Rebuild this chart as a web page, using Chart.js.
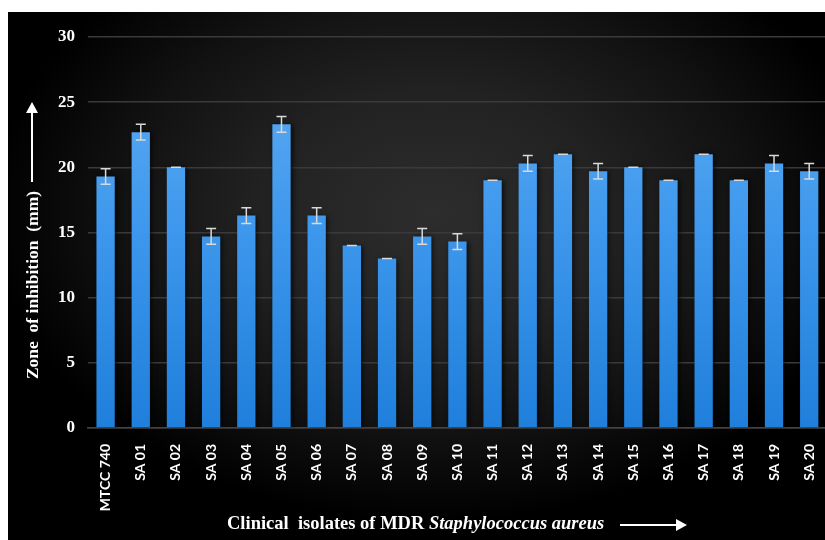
<!DOCTYPE html>
<html>
<head>
<meta charset="utf-8">
<script src="https://cdn.jsdelivr.net/npm/chart.js@4/dist/chart.umd.min.js"></script>
<style>
  html, body { margin: 0; padding: 0; background: #fff; width: 825px; height: 540px; overflow: hidden; }
  #bg {
    position: absolute; left: 8px; top: 12px; width: 817px; height: 528px;
    background: radial-gradient(ellipse 60% 65% at 52% 38%, #2d2d2d 0%, #222 35%, #111 65%, #000 90%);
  }
  #wrap { position: absolute; left: 8px; top: 12px; width: 826px; height: 528px; }
  .ytitle {
    position: absolute; left: 32px; top: 285px; transform: translate(-50%, -50%) rotate(-90deg);
    color: #fff; font: bold 17.5px "Liberation Serif", serif; white-space: pre;
  }
  .xtitle {
    position: absolute; left: 227px; top: 513px;
    color: #fff; font: bold 18.5px "Liberation Serif", serif; white-space: pre;
  }
  .arrow-up { position: absolute; left: 31px; top: 112px; width: 2px; height: 70px; background: #fff; }
  .arrow-up::before {
    content: ""; position: absolute; left: -5px; top: -10px;
    border-left: 6px solid transparent; border-right: 6px solid transparent; border-bottom: 11px solid #fff;
  }
  .arrow-right { position: absolute; left: 620px; top: 524px; width: 56px; height: 2px; background: #fff; }
  .arrow-right::after {
    content: ""; position: absolute; right: -11px; top: -5px;
    border-top: 6px solid transparent; border-bottom: 6px solid transparent; border-left: 11px solid #fff;
  }
</style>
</head>
<body>
<div id="bg"></div>
<div id="wrap"><canvas id="myChart" width="826" height="528"></canvas></div>
<div class="arrow-up"></div>
<div class="ytitle">Zone  of inhibition  (mm)</div>
<div class="xtitle">Clinical  isolates of MDR <i>Staphylococcus aureus</i></div>
<div class="arrow-right"></div>
<script>
const isolates = ["MTCC 740", "SA 01", "SA 02", "SA 03", "SA 04", "SA 05", "SA 06", "SA 07", "SA 08", "SA 09", "SA 10",
  "SA 11", "SA 12", "SA 13", "SA 14", "SA 15", "SA 16", "SA 17", "SA 18", "SA 19", "SA 20"];
const zoneMean = [19.3, 22.7, 20, 14.7, 16.3, 23.3, 16.3, 14, 13, 14.7, 14.3,
  19, 20.3, 21, 19.7, 20, 19, 21, 19, 20.3, 19.7];
const zoneErr = [0.6, 0.6, 0, 0.6, 0.6, 0.6, 0.6, 0, 0, 0.6, 0.6,
  0, 0.6, 0, 0.6, 0, 0, 0, 0, 0.6, 0.6];
const yTicks = [0, 5, 10, 15, 20, 25, 30];

// error bars drawn from the y scale
const errorBars = {
  id: "errorBars",
  afterDatasetsDraw(chart) {
    const ctx = chart.ctx;
    const y = chart.scales.y;
    const meta = chart.getDatasetMeta(0);
    ctx.save();
    ctx.strokeStyle = "#d9d9d9";
    ctx.lineWidth = 1.5;
    meta.data.forEach((bar, i) => {
      const top = y.getPixelForValue(zoneMean[i] + zoneErr[i]);
      const bot = y.getPixelForValue(zoneMean[i] - zoneErr[i]);
      ctx.beginPath();
      ctx.moveTo(bar.x, top); ctx.lineTo(bar.x, bot);
      ctx.moveTo(bar.x - 5, top); ctx.lineTo(bar.x + 5, top);
      ctx.moveTo(bar.x - 5, bot); ctx.lineTo(bar.x + 5, bot);
      ctx.stroke();
    });
    ctx.restore();
  },
};

// soft shadow behind the bars
const barShadow = {
  id: "barShadow",
  beforeDatasetsDraw(chart) {
    const ctx = chart.ctx;
    ctx.save();
    ctx.shadowColor = "rgba(0,0,0,0.7)";
    ctx.shadowBlur = 5;
    ctx.shadowOffsetX = 2;
  },
  afterDatasetsDraw(chart) {
    chart.ctx.restore();
  },
};

const ctx = document.getElementById("myChart").getContext("2d");

new Chart(ctx, {
  type: "bar",
  data: {
    labels: isolates,
    datasets: [{
      label: "Zone of inhibition",
      data: zoneMean,
      backgroundColor: (c) => {
        const area = c.chart.chartArea;
        if (!area) return "#3593ea";
        const g = c.chart.ctx.createLinearGradient(0, area.top, 0, area.bottom);
        g.addColorStop(0, "#62aef4");
        g.addColorStop(0.5, "#3d97ec");
        g.addColorStop(1, "#1f7fdb");
        return g;
      },
      borderWidth: 0,
      barPercentage: 0.52,
      categoryPercentage: 1,
    }],
  },
  options: {
    responsive: false,
    animation: false,
    layout: { padding: { top: 25, right: 0, left: 0, bottom: 0 } },
    plugins: {
      legend: { display: false },
      tooltip: { enabled: false },
    },
    scales: {
      x: {
        grid: { display: false },
        border: { color: "#444", width: 1.5 },
        ticks: {
          color: "#fff",
          font: { family: "Lato", weight: "bold", size: 14 },
          minRotation: 90,
          maxRotation: 90,
          padding: 8,
          autoSkip: false,
        },
        afterFit: (s) => { s.height = 112; },
      },
      y: {
        min: 0,
        max: 30,
        afterBuildTicks: (s) => { s.ticks = yTicks.map((v) => ({ value: v })); },
        grid: { color: "#3a3a3a", lineWidth: 1.5, drawTicks: false },
        border: { display: false },
        ticks: {
          color: "#fff",
          font: { family: "Liberation Serif", weight: "bold", size: 17 },
          padding: 13,
        },
        afterFit: (s) => { s.width = 80; },
      },
    },
  },
  plugins: [barShadow, errorBars],
});
</script>
</body>
</html>
